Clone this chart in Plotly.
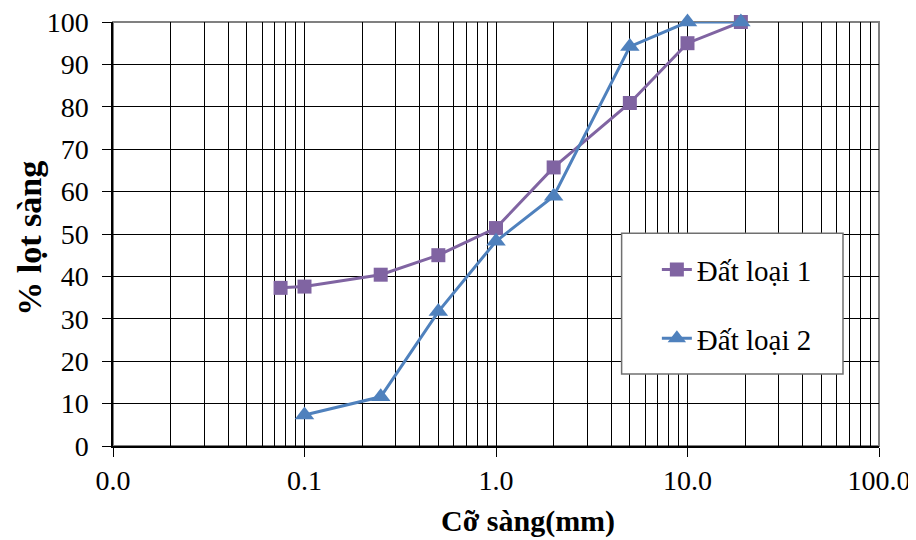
import plotly.graph_objects as go

sieve1 = [0.075, 0.1, 0.25, 0.5, 1, 2, 5, 10, 19]
pass1 = [37.3, 37.6, 40.4, 45.0, 51.4, 65.7, 80.9, 95.0, 100]
sieve2 = [0.1, 0.25, 0.5, 1, 2, 5, 10, 19]
pass2 = [7.3, 11.6, 31.7, 48.3, 58.9, 94.2, 100, 100]
name1 = "Đất loại 1"
name2 = "Đất loại 2"
xtick_vals = [0.01, 0.1, 1, 10, 100]
xtick_text = ["0.0", "0.1", "1.0", "10.0", "100.0"]
ytick_vals = list(range(0, 101, 10))

FONT = "Liberation Serif"
minor_vals = [m * 10 ** e for e in range(-2, 2) for m in range(2, 10)]

fig = go.Figure()
fig.add_trace(go.Scatter(x=sieve1, y=pass1, name=name1, mode="lines+markers",
                         legendgroup="g1", cliponaxis=False,
                         line=dict(color="#8064A2", width=3),
                         marker=dict(symbol="square", size=14, color="#8064A2")))
fig.add_trace(go.Scatter(x=sieve2, y=pass2, name=name2, mode="lines+markers",
                         legendgroup="g2", cliponaxis=False,
                         line=dict(color="#4F81BD", width=3),
                         marker=dict(symbol="triangle-up", size=17, color="#4F81BD")))

# page body has an 8px margin: shrink figure by 8px on left/top so plot area lands in place
fig.update_layout(
    width=908, height=532,
    margin=dict(l=105, r=37, t=14, b=94, autoexpand=False),
    paper_bgcolor="white", plot_bgcolor="white",
    font=dict(family=FONT, size=28, color="black"),
    showlegend=True,
    legend=dict(x=0.71, y=0.476, xanchor="left", yanchor="top",
                bgcolor="rgba(0,0,0,0)", borderwidth=0,
                font=dict(family=FONT, size=29, color="black"),
                traceorder="grouped", itemwidth=30, tracegroupgap=28),
    shapes=[
        dict(type="rect", xref="paper", yref="paper", x0=0, x1=1, y0=0, y1=1,
             line=dict(color="#808080", width=2), layer="below"),
        dict(type="rect", xref="paper", yref="paper", x0=0.664, x1=0.953, y0=0.17, y1=0.502,
             line=dict(color="#707070", width=1.5), fillcolor="white", layer="above"),
    ],
    annotations=[
        dict(text="<b>Cỡ sàng(mm)</b>", xref="paper", yref="paper", x=0.5424, y=-0.177,
             xanchor="center", yanchor="middle", showarrow=False,
             font=dict(family=FONT, size=30, color="black")),
        dict(text="<b>% lọt sàng</b>", xref="paper", yref="paper", x=-0.109, y=0.49,
             xanchor="center", yanchor="middle", textangle=-90, showarrow=False,
             font=dict(family=FONT, size=34, color="black")),
    ],
)

fig.update_xaxes(type="log", range=[-2, 2], tickvals=xtick_vals, ticktext=xtick_text,
                 showgrid=True, gridcolor="black", gridwidth=1,
                 showline=True, linecolor="black", linewidth=1.5,
                 ticks="outside", ticklen=9, tickcolor="black",
                 minor=dict(tickvals=minor_vals, showgrid=True, gridcolor="black",
                            gridwidth=1, ticks=""),
                 zeroline=False, ticklabelstandoff=0, ticklabeloverflow="allow",
                 tickfont=dict(family=FONT, size=28, color="black"))
fig.update_yaxes(range=[0, 100], tickvals=ytick_vals,
                 showgrid=True, gridcolor="black", gridwidth=1,
                 showline=True, linecolor="black", linewidth=1.5,
                 ticks="outside", ticklen=9, tickcolor="black",
                 zeroline=False, ticklabelstandoff=8, ticklabeloverflow="allow",
                 tickfont=dict(family=FONT, size=28, color="black"))

fig.write_html("out.html")
